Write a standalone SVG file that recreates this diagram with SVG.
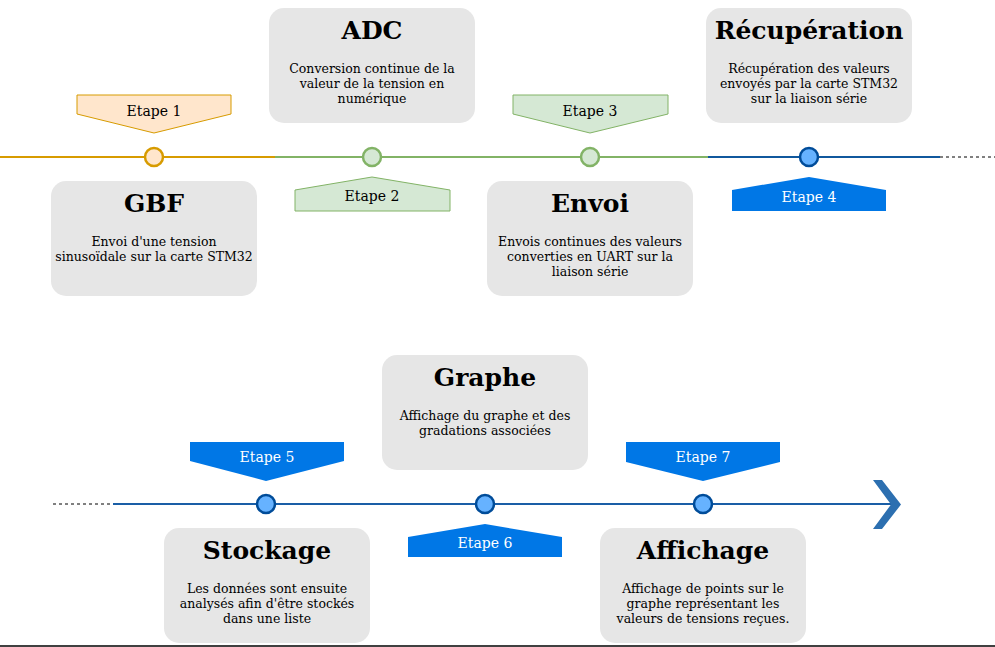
<svg xmlns="http://www.w3.org/2000/svg" width="995" height="647" viewBox="0 0 995 647">
<style>
.box{fill:#e6e6e6}
.title{font-family:"DejaVu Serif",serif;font-weight:bold;font-size:25px;text-anchor:middle;fill:#000}
.desc{font-family:"DejaVu Serif",serif;font-size:12.5px;text-anchor:middle;fill:#000}
.lbl{font-family:"DejaVu Serif",serif;font-size:14px;text-anchor:middle;fill:#000}
.lblw{font-family:"DejaVu Serif",serif;font-size:14px;text-anchor:middle;fill:#fff}
.orange{fill:#ffe6cc;stroke:#d79b00;stroke-width:1}
.green{fill:#d5e8d4;stroke:#82b366;stroke-width:1}
.blue{fill:#0077e6}
.co{fill:#ffe6cc;stroke:#d79b00;stroke-width:2.5}
.cg{fill:#d5e8d4;stroke:#82b366;stroke-width:2.5}
.cb{fill:#66b2ff;stroke:#004c99;stroke-width:2.5}
.dash{stroke:#000;stroke-width:1;stroke-dasharray:3 3}
</style>
<rect width="995" height="647" fill="#fff"/>
<g id="connectors" fill="none">
<line x1="0" y1="157" x2="275" y2="157" stroke="#d79b00" stroke-width="2"/>
<line x1="275" y1="157" x2="708" y2="157" stroke="#82b366" stroke-width="2"/>
<line x1="708" y1="157" x2="940" y2="157" stroke="#10589d" stroke-width="2"/>
<line x1="940" y1="157" x2="995" y2="157" class="dash"/>
<line x1="53" y1="504" x2="113" y2="504" class="dash"/>
<line x1="113" y1="504" x2="893" y2="504" stroke="#1a5ea6" stroke-width="2"/>
<polygon points="873,480 882,480 901,504.5 882,529 873,529 891,504.5" fill="#2c6fb0" stroke="none"/>
<line x1="0" y1="646" x2="995" y2="646" stroke="#000" stroke-width="1.5"/>
</g>
<g id="step1">
<polygon class="orange" points="77,95 231,95 231,114 154,133 77,114"/>
<text class="lbl" x="154" y="116">Etape 1</text>
<circle class="co" cx="154" cy="157" r="9"/>
</g>
<g id="step2">
<polygon class="green" points="295,211 450,211 450,190 372,177 295,190"/>
<text class="lbl" x="372" y="201">Etape 2</text>
<circle class="cg" cx="372" cy="157" r="9"/>
</g>
<g id="step3">
<polygon class="green" points="513,95 668,95 668,114 590,133 513,114"/>
<text class="lbl" x="590" y="116">Etape 3</text>
<circle class="cg" cx="590" cy="157" r="9"/>
</g>
<g id="step4">
<polygon class="blue" points="732,211 886,211 886,190 809,177 732,190"/>
<text class="lblw" x="809" y="202">Etape 4</text>
<circle class="cb" cx="809" cy="157" r="9"/>
</g>
<g id="step5">
<polygon class="blue" points="190,442 344,442 344,461 266,481 190,461"/>
<text class="lblw" x="267" y="462">Etape 5</text>
<circle class="cb" cx="266" cy="504" r="9"/>
</g>
<g id="step6">
<polygon class="blue" points="408,557 562,557 562,537 485,524 408,537"/>
<text class="lblw" x="485" y="548">Etape 6</text>
<circle class="cb" cx="485" cy="504" r="9"/>
</g>
<g id="step7">
<polygon class="blue" points="626,442 780,442 780,462 703,481 626,462"/>
<text class="lblw" x="703" y="462">Etape 7</text>
<circle class="cb" cx="703" cy="504" r="9"/>
</g>
<g id="node-gbf">
<rect class="box" x="51" y="181" width="206" height="115" rx="15"/>
<text class="title" x="154" y="212">GBF</text>
<text class="desc" x="154" y="246">Envoi d'une tension</text>
<text class="desc" x="154" y="261">sinusoïdale sur la carte STM32</text>
</g>
<g id="node-adc">
<rect class="box" x="269" y="8" width="206" height="115" rx="15"/>
<text class="title" x="372" y="39">ADC</text>
<text class="desc" x="372" y="73">Conversion continue de la</text>
<text class="desc" x="372" y="88">valeur de la tension en</text>
<text class="desc" x="372" y="103">numérique</text>
</g>
<g id="node-envoi">
<rect class="box" x="487" y="181" width="206" height="115" rx="15"/>
<text class="title" x="590" y="212">Envoi</text>
<text class="desc" x="590" y="246">Envois continues des valeurs</text>
<text class="desc" x="590" y="261">converties en UART sur la</text>
<text class="desc" x="590" y="276">liaison série</text>
</g>
<g id="node-recuperation">
<rect class="box" x="706" y="8" width="206" height="115" rx="15"/>
<text class="title" x="809" y="39">Récupération</text>
<text class="desc" x="809" y="73">Récupération des valeurs</text>
<text class="desc" x="809" y="88">envoyés par la carte STM32</text>
<text class="desc" x="809" y="103">sur la liaison série</text>
</g>
<g id="node-stockage">
<rect class="box" x="164" y="528" width="206" height="115" rx="15"/>
<text class="title" x="267" y="559">Stockage</text>
<text class="desc" x="267" y="593">Les données sont ensuite</text>
<text class="desc" x="267" y="608">analysés afin d'être stockés</text>
<text class="desc" x="267" y="623">dans une liste</text>
</g>
<g id="node-graphe">
<rect class="box" x="382" y="355" width="206" height="115" rx="15"/>
<text class="title" x="485" y="386">Graphe</text>
<text class="desc" x="485" y="420">Affichage du graphe et des</text>
<text class="desc" x="485" y="435">gradations associées</text>
</g>
<g id="node-affichage">
<rect class="box" x="600" y="528" width="206" height="115" rx="15"/>
<text class="title" x="703" y="559">Affichage</text>
<text class="desc" x="703" y="593">Affichage de points sur le</text>
<text class="desc" x="703" y="608">graphe représentant les</text>
<text class="desc" x="703" y="623">valeurs de tensions reçues.</text>
</g>
</svg>
